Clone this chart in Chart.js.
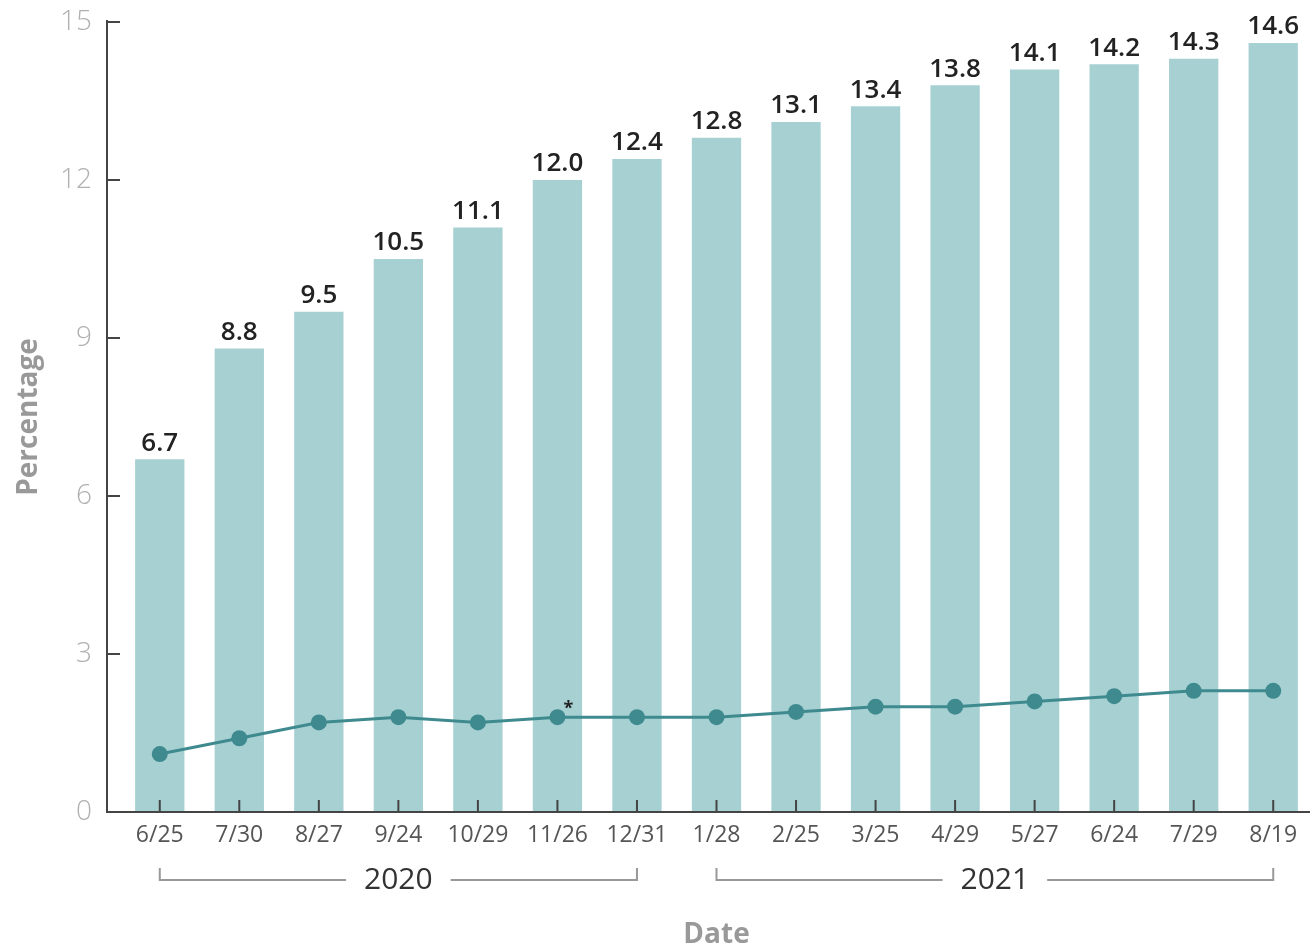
<!DOCTYPE html>
<html>
<head>
<meta charset="utf-8">
<script src="https://cdn.jsdelivr.net/npm/chart.js@4/dist/chart.umd.min.js"></script>
<style>
  html, body { margin: 0; padding: 0; background: #fff; }
  #wrap { width: 1316px; height: 946px; position: relative; }
</style>
</head>
<body>
<div id="wrap"><canvas id="c"></canvas></div>
<script>
const categories = ['6/25','7/30','8/27','9/24','10/29','11/26','12/31','1/28','2/25','3/25','4/29','5/27','6/24','7/29','8/19'];
const barValues = [6.7, 8.8, 9.5, 10.5, 11.1, 12.0, 12.4, 12.8, 13.1, 13.4, 13.8, 14.1, 14.2, 14.3, 14.6];
const lineValues = [1.1, 1.4, 1.7, 1.8, 1.7, 1.8, 1.8, 1.8, 1.9, 2.0, 2.0, 2.1, 2.2, 2.3, 2.3];
const yearLabels = ['2020', '2021'];
const yearStartIdx = [0, 7];
const yearEndIdx = [6, 14];
const yTicks = [0, 3, 6, 9, 12, 15];
const markedIdx = 5; // asterisk point

const FONT = '"Open Sans", "DejaVu Sans", sans-serif';

const decorPlugin = {
  id: 'decor',
  afterDatasetsDraw(chart) {
    const ctx = chart.ctx;
    const xs = chart.scales.x, ys = chart.scales.y;
    const ca = chart.chartArea;
    const axisX = ca.left - 13;
    ctx.save();
    // bar value labels
    const barMeta = chart.getDatasetMeta(0);
    ctx.fillStyle = '#222';
    ctx.font = '600 26px ' + FONT;
    ctx.textAlign = 'center';
    ctx.textBaseline = 'bottom';
    barMeta.data.forEach((el, i) => {
      ctx.fillText(barValues[i].toFixed(1), el.x, el.y - 3);
    });
    // axes
    ctx.strokeStyle = '#444';
    ctx.lineWidth = 2;
    ctx.beginPath();
    ctx.moveTo(axisX, ys.getPixelForValue(15) - 2);
    ctx.lineTo(axisX, ca.bottom);
    ctx.lineTo(ca.right - 3, ca.bottom);
    ctx.stroke();
    // y ticks (inward)
    ctx.beginPath();
    yTicks.forEach(v => {
      if (v === 0) return;
      const y = ys.getPixelForValue(v);
      ctx.moveTo(axisX, y);
      ctx.lineTo(axisX + 13, y);
    });
    // x ticks (inward)
    categories.forEach((c, i) => {
      const x = xs.getPixelForValue(i);
      ctx.moveTo(x, ca.bottom);
      ctx.lineTo(x, ca.bottom - 12);
    });
    ctx.stroke();
    // asterisk
    const lineMeta = chart.getDatasetMeta(1);
    const p = lineMeta.data[markedIdx];
    ctx.fillStyle = '#222';
    ctx.font = 'bold 18px ' + FONT;
    ctx.textAlign = 'center';
    ctx.textBaseline = 'middle';
    ctx.fillText('*', p.x + 11, p.y - 8);
    // year brackets
    const by = 880;
    ctx.strokeStyle = '#999';
    ctx.lineWidth = 2;
    ctx.font = '30px ' + FONT;
    ctx.fillStyle = '#333';
    yearLabels.forEach((lab, k) => {
      const x0 = xs.getPixelForValue(yearStartIdx[k]);
      const x1 = xs.getPixelForValue(yearEndIdx[k]);
      const mid = (x0 + x1) / 2;
      const tw = ctx.measureText(lab).width;
      const gap = tw / 2 + 18;
      ctx.beginPath();
      ctx.moveTo(x0, by - 12);
      ctx.lineTo(x0, by);
      ctx.lineTo(mid - gap, by);
      ctx.moveTo(mid + gap, by);
      ctx.lineTo(x1, by);
      ctx.lineTo(x1, by - 12);
      ctx.stroke();
      ctx.fillText(lab, mid, by);
    });
    ctx.restore();
  }
};

new Chart(document.getElementById('c'), {
  data: {
    labels: categories,
    datasets: [
      {
        type: 'bar',
        data: barValues,
        backgroundColor: '#a7d0d3',
        borderWidth: 0,
        categoryPercentage: 1,
        barPercentage: 0.62,
        order: 2
      },
      {
        type: 'line',
        data: lineValues,
        borderColor: '#3e8a8e',
        backgroundColor: '#3e8a8e',
        borderWidth: 3,
        pointRadius: 8,
        pointBackgroundColor: '#3e8a8e',
        pointBorderWidth: 0,
        tension: 0,
        order: 1
      }
    ]
  },
  options: {
    responsive: true,
    maintainAspectRatio: false,
    animation: false,
    layout: { autoPadding: false, padding: { top: 22, right: 3, left: 0, bottom: 0 } },
    plugins: { legend: { display: false }, tooltip: { enabled: false } },
    scales: {
      x: {
        type: 'category',
        offset: true,
        grid: { display: false, drawTicks: false },
        border: { display: false },
        ticks: { color: '#555', font: { family: FONT, size: 23 }, padding: 10, maxRotation: 0, autoSkip: false },
        title: { display: true, text: 'Date', color: '#999', font: { family: FONT, size: 28, weight: 'bold' }, padding: { top: 4, bottom: -6 } },
        afterFit(s) { s.height = 134; s.paddingLeft = 0; s.paddingRight = 0; }
      },
      y: {
        min: 0, max: 15,
        afterBuildTicks(s) { s.ticks = yTicks.map(v => ({ value: v })); },
        grid: { display: false, drawTicks: false },
        border: { display: false },
        ticks: { color: '#b0b0b0', font: { family: FONT, size: 28, weight: '300' }, padding: 28 },
        title: { display: true, text: 'Percentage', color: '#999', font: { family: FONT, size: 28, weight: 'bold' }, padding: { top: 12, bottom: 0 } },
        afterFit(s) { s.width = 120; s.paddingTop = 0; s.paddingBottom = 0; }
      }
    }
  },
  plugins: [decorPlugin]
});
</script>
</body>
</html>
